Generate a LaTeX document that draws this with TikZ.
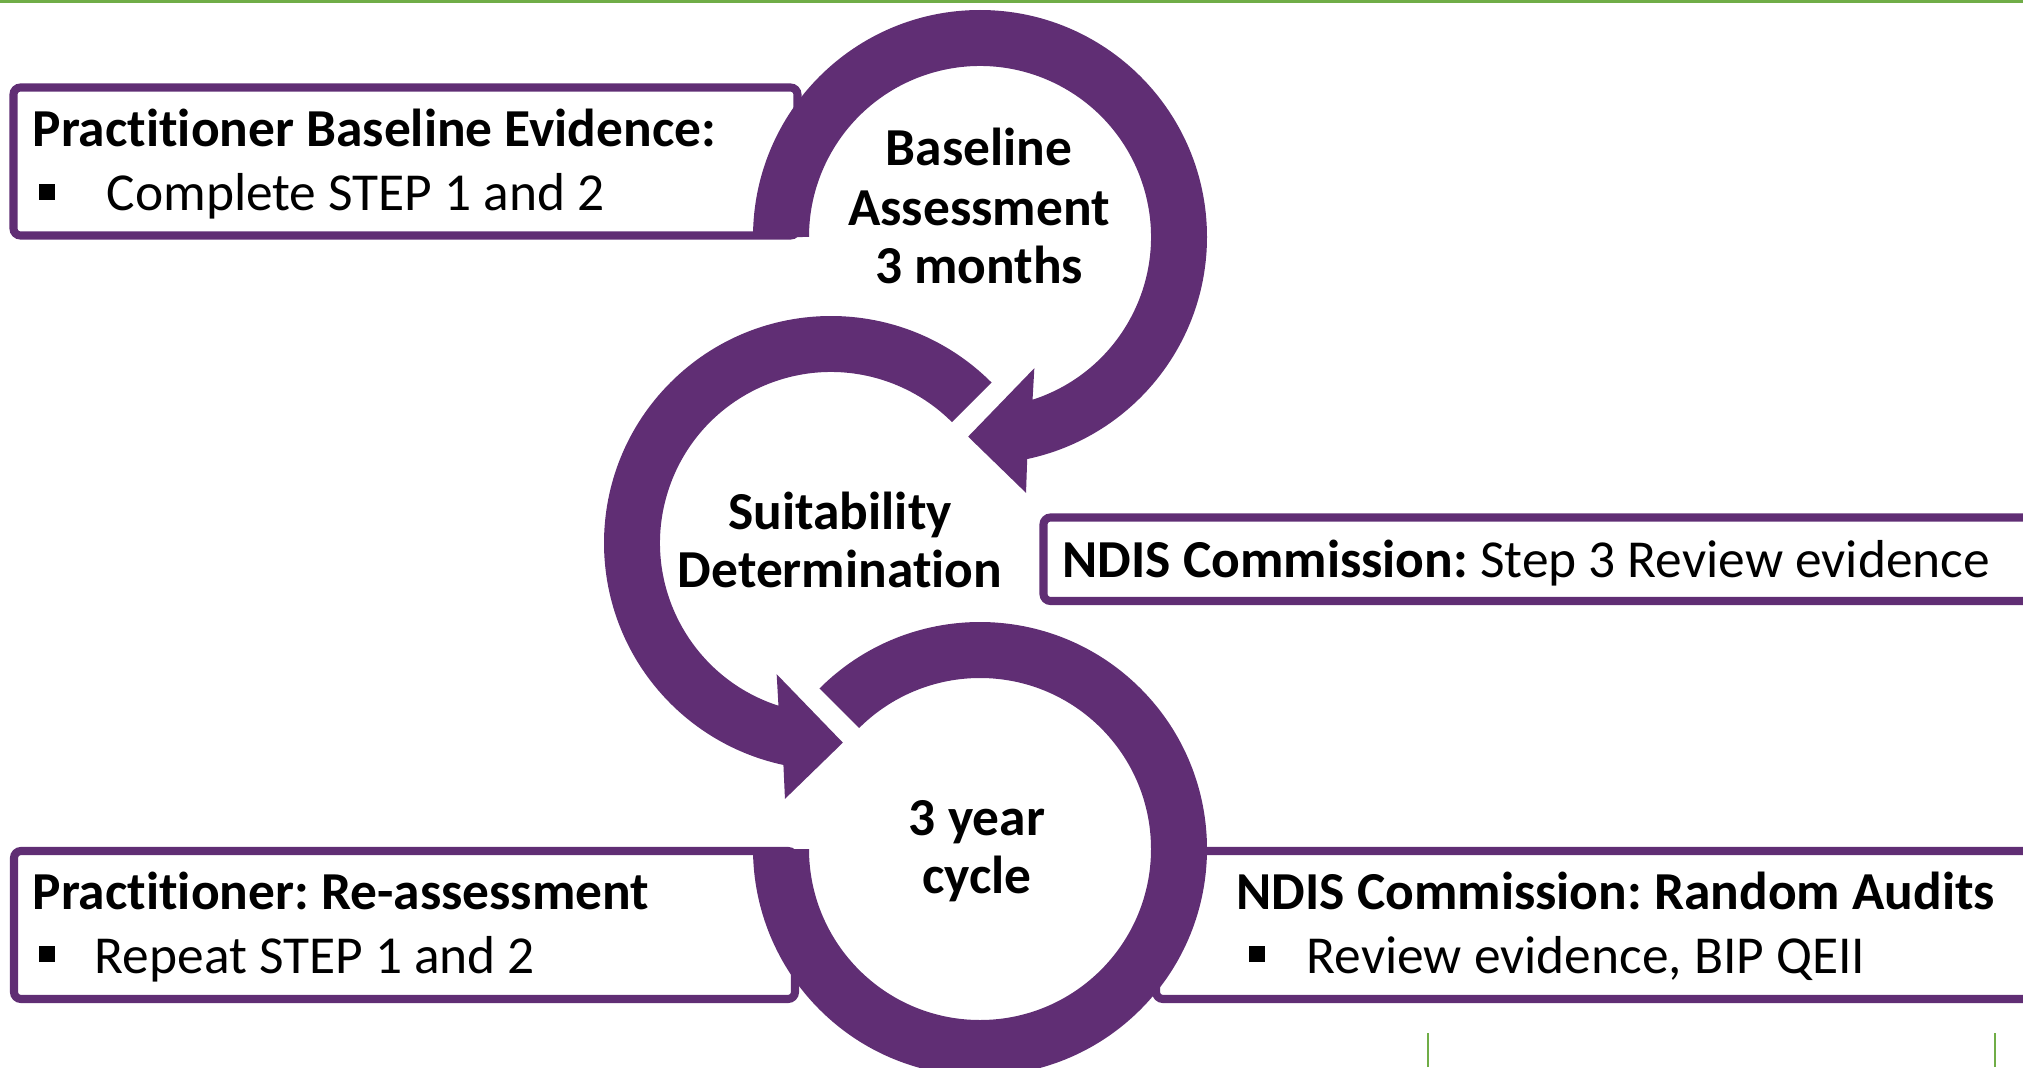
\documentclass[tikz,border=0pt]{standalone}
\usepackage{fontspec}
\setmainfont{Carlito}[Ligatures=NoCommon]
\definecolor{ringpurple}{RGB}{96,46,116}
\definecolor{rulegreen}{RGB}{112,173,71}
\newcommand{\sqbul}[1]{\makebox[#1][l]{\rule[0.11cm]{0.16cm}{0.16cm}}}
\frenchspacing

\begin{document}
\begin{tikzpicture}[
  box/.style={draw=ringpurple,line width=2.3pt,rounded corners=2pt},
  ring/.style={fill=ringpurple},
  head/.style={font=\fontsize{15.2}{18}\selectfont\bfseries,anchor=base,inner sep=0pt},
  txt/.style={font=\fontsize{15.2}{18}\selectfont,anchor=base west,inner sep=0pt},
  title/.style={txt,font=\fontsize{15.2}{18}\selectfont\bfseries}]
  \clip (0,0) rectangle (20.23,10.67);
  \draw[rulegreen,line width=0.9pt] (0,10.655) -- (20.23,10.655);
  \draw[rulegreen,line width=0.7pt] (14.28,0) -- (14.28,0.34);
  \draw[rulegreen,line width=0.7pt] (19.95,0) -- (19.95,0.34);

  \draw[box] (0.135,9.795) rectangle (7.975,8.315);
  \draw[box] (10.435,5.495) rectangle (20.6,4.66);
  \draw[box] (0.14,2.16) rectangle (7.95,0.68);
  \draw[box] (11.56,2.16) rectangle (20.6,0.68);

  \begin{scope}[shift={(9.80,8.30)}]
    \fill[ring] (180:2.27) arc[start angle=180,end angle=-78,radius=2.27]
      -- (-79.8:2.60) -- (-93.4:2.00) -- (-67.5:1.42) -- (-72.1:1.71)
      arc[start angle=-72.1,end angle=180,radius=1.71] -- cycle;
  \end{scope}
  \begin{scope}[shift={(8.31,5.24)}]
    \fill[ring] (45:2.27) arc[start angle=45,end angle=257.9,radius=2.27]
      -- (259.8:2.60) -- (273.4:2.00) -- (247.5:1.42) -- (252.1:1.71)
      arc[start angle=252.1,end angle=45,radius=1.71] -- cycle;
  \end{scope}
  \begin{scope}[shift={(9.80,2.18)}]
    \fill[ring] (135:2.27) arc[start angle=135,end angle=-180,radius=2.27]
      -- (180:1.71) arc[start angle=-180,end angle=135,radius=1.71] -- cycle;
  \end{scope}

  \node[head] (base1) at (9.79,9.01) {Baseline};
  \node[head] (base2) at (9.79,8.42) {Assessment};
  \node[head] (base3) at (9.79,7.83) {3 months};
  \node[head] (suit1) at (8.40,5.38) {Suitability};
  \node[head] (suit2) at (8.40,4.80) {Determination};
  \node[head] (cyc1) at (9.77,2.32) {3 year};
  \node[head] (cyc2) at (9.77,1.74) {cycle};

  \node[title] (pbe) at (0.32,9.21) {Practitioner Baseline Evidence:};
  \node[txt] (pbe1) at (0.38,8.56) {\sqbul{0.68cm}Complete STEP 1 and 2};
  \node[txt] (ndr) at (10.62,4.90) {\textbf{NDIS Commission:} Step 3 Review evidence};
  \node[title] (pra) at (0.32,1.58) {Practitioner: Re-assessment};
  \node[txt] (pra1) at (0.38,0.94) {\sqbul{0.56cm}Repeat STEP 1 and 2};
  \node[title] (ndra) at (12.36,1.58) {NDIS Commission: Random Audits};
  \node[txt] (ndra1) at (12.48,0.94) {\sqbul{0.58cm}Review evidence, BIP QEII};
\end{tikzpicture}
\end{document}
